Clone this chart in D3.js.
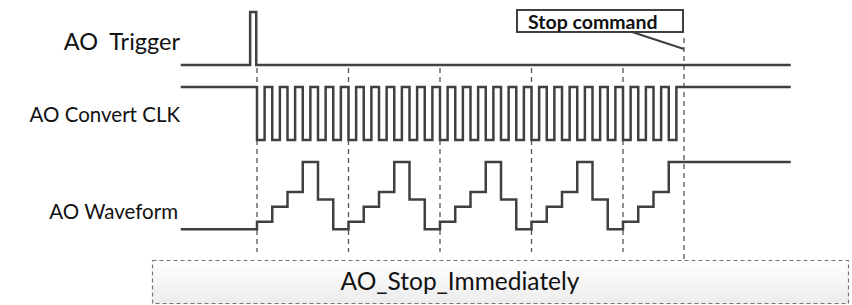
<!DOCTYPE html>
<html>
<head>
<meta charset="utf-8">
<script src="https://cdn.jsdelivr.net/npm/d3@7"></script>
<style>
body { margin:0; background:#fff; }
svg { display:block; }
.lbl { font-family: Lato, "Open Sans", sans-serif; fill:#111; }
</style>
</head>
<body>
<div id="figure"></div>
<script>
// time is in clock periods, 0 = first clock edge after the trigger
var startT = -5, endT = 35;

var triggerTimes  = [-5, -0.45, -0.05];
var triggerLevels = [0, 1, 0];

// clock: high before t=0, then low/high every half period, high after the stop
var clockTimes = [-5];
var clockLevels = [1];
var clockHalf = [0,1,0,1,0,1,0,1,0,1,0,1,0,1,0,1,0,1,0,1,0,1,0,1,0,1,0,1,
                 0,1,0,1,0,1,0,1,0,1,0,1,0,1,0,1,0,1,0,1,0,1,0,1,0,1,0,1];

var waveLevels = [0,
  1,3,5,9,4,0,
  1,3,5,9,4,0,
  1,3,5,9,4,0,
  1,3,5,9,4,0,
  1,3,5,9];

var markerTimes = [0, 6, 12, 18, 24, 28];
var stopTime = 28;

var labels = ["AO  Trigger", "AO Convert CLK", "AO Waveform"];
var labelSize = [23.5, 20.5, 20.5];

var w = 852, h = 305;
var ink = "#404040";

var svg = d3.select("#figure").append("svg").attr("width", w).attr("height", h);

var x = d3.scaleLinear().domain([0, 28]).range([257, 684]);
var yTrig = d3.scaleLinear().domain([0, 1]).range([65, 12]);
var yClk = d3.scaleLinear().domain([0, 1]).range([140, 87]);
var yWave = d3.scaleLinear().domain([0, 9]).range([229.3, 162]);

// build step series
function steps(times, levels) {
	var pts = [];
	for (var i = 0; i < times.length; i++) pts.push([times[i], levels[i]]);
	pts.push([endT, levels[levels.length-1]]);
	return pts;
}

for (var i = 0; i < clockHalf.length; i++) {
	clockTimes.push(i * 0.5);
	clockLevels.push(clockHalf[i]);
}
// after the last low half the clock stays high
clockTimes[clockTimes.length-1] = stopTime - 0.5;

var waveTimes = [startT];
for (var k = 1; k < waveLevels.length; k++) waveTimes.push(k - 1);

var line = function(ys) {
	return d3.line().x(function(d) { return x(d[0]); }).y(function(d) { return ys(d[1]); })
		.curve(d3.curveStepAfter);
};

// bottom box
var grad = svg.append("defs").append("linearGradient").attr("id", "g1")
	.attr("x1", 0).attr("y1", 0).attr("x2", 0).attr("y2", 1);
grad.append("stop").attr("offset", "0%").attr("stop-color", "#ffffff");
grad.append("stop").attr("offset", "100%").attr("stop-color", "#ececec");

svg.append("rect")
	.attr("x", 152.5).attr("y", 260.5)
	.attr("width", 696).attr("height", 43)
	.attr("fill", "url(#g1)")
	.attr("stroke", "#777").attr("stroke-width", 1.2)
	.attr("stroke-dasharray", "4,3");

svg.append("text").attr("class", "lbl")
	.attr("x", 460).attr("y", 290)
	.attr("text-anchor", "middle")
	.attr("font-size", "24.5px")
	.text("AO_Stop_Immediately");

// dashed markers
svg.selectAll("line.mark")
	.data(markerTimes)
	.enter()
	.append("line")
	.attr("class", "mark")
	.attr("x1", function(d) { return x(d); })
	.attr("x2", function(d) { return x(d); })
	.attr("y1", function(d) { return d == stopTime ? 38 : 68; })
	.attr("y2", function(d) { return d == stopTime ? 260 : 252; })
	.attr("stroke", "#555")
	.attr("stroke-width", 1.3)
	.attr("stroke-dasharray", "5,4");

// signals
svg.append("path").datum(steps(triggerTimes, triggerLevels))
	.attr("d", line(yTrig)).attr("fill", "none")
	.attr("stroke", ink).attr("stroke-width", 2.5);

svg.append("path").datum(steps(clockTimes, clockLevels))
	.attr("d", line(yClk)).attr("fill", "none")
	.attr("stroke", ink).attr("stroke-width", 2.5);

svg.append("path").datum(steps(waveTimes, waveLevels))
	.attr("d", line(yWave)).attr("fill", "none")
	.attr("stroke", ink).attr("stroke-width", 2.5);

// signal names
var labelY = [50, 122, 219];
svg.selectAll("text.name")
	.data(labels)
	.enter()
	.append("text")
	.attr("class", "lbl name")
	.attr("x", function(d, i) { return i == 2 ? 178 : 180; })
	.attr("y", function(d, i) { return labelY[i]; })
	.attr("text-anchor", "end")
	.attr("font-size", function(d, i) { return labelSize[i] + "px"; })
	.style("white-space", "pre")
	.text(function(d) { return d; });

// stop command callout
svg.append("rect")
	.attr("x", 517).attr("y", 10)
	.attr("width", 166).attr("height", 22)
	.attr("fill", "#fff")
	.attr("stroke", ink).attr("stroke-width", 2);

svg.append("text").attr("class", "lbl")
	.attr("x", 528).attr("y", 28.5)
	.attr("font-size", "19.5px")
	.attr("font-weight", "bold")
	.text("Stop command");

svg.append("line")
	.attr("x1", 632).attr("y1", 32)
	.attr("x2", x(stopTime)).attr("y2", 49)
	.attr("stroke", ink).attr("stroke-width", 2);
</script>
</body>
</html>
